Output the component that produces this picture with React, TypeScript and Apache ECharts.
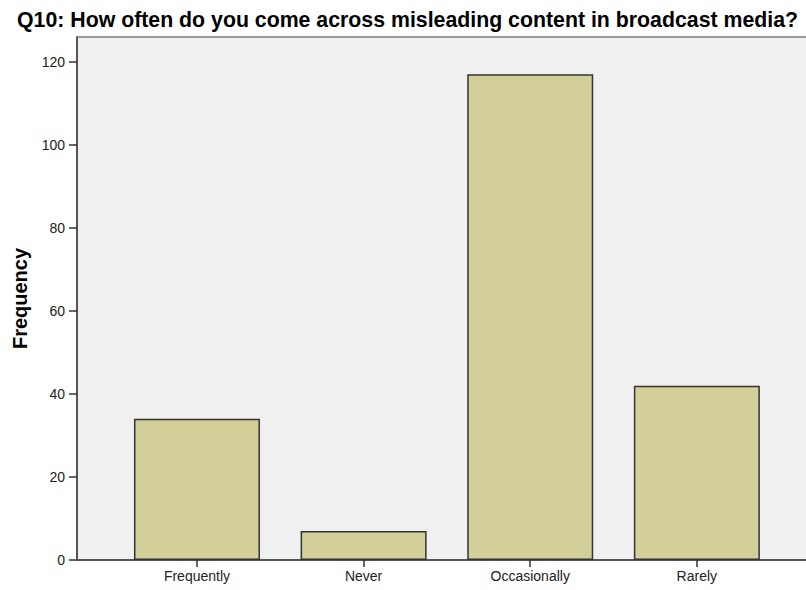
import React, { useEffect, useRef } from "react";
import * as echarts from "echarts";

const categories = ["Frequently", "Never", "Occasionally", "Rarely"];
const frequencies = [34, 7, 117, 42];
const yTicks = [0, 20, 40, 60, 80, 100, 120];

const FONT = "'Liberation Sans', Arial, sans-serif";

export default function App() {
  const ref = useRef<HTMLDivElement>(null);
  useEffect(() => {
    if (!ref.current) return;
    const chart = echarts.init(ref.current, null, { renderer: "svg" });
    const idx = categories.map((_, i) => i);
    chart.setOption({
      animation: false,
      backgroundColor: "#ffffff",
      title: {
        text: "Q10: How often do you come across misleading content in broadcast media?",
        left: 12,
        top: 4,
        textStyle: { fontFamily: FONT, fontSize: 21.3, fontWeight: "bold", color: "#000" },
      },
      grid: {
        left: 77,
        right: 0,
        top: 37,
        bottom: 30,
        show: true,
        backgroundColor: "#f0f0f0",
        borderColor: "transparent",
        borderWidth: 0,
      },
      xAxis: [
        {
          type: "value",
          min: -0.72,
          max: 3.655,
          splitLine: { show: false },
          axisLine: { show: true, onZero: false, lineStyle: { color: "#555", width: 2 } },
          axisTick: {
            show: true,
            customValues: idx,
            length: 7,
            lineStyle: { color: "#333", width: 1.5 },
          },
          axisLabel: {
            customValues: idx,
            margin: 9,
            fontFamily: FONT,
            fontSize: 14,
            color: "#222",
            formatter: (v: number) => categories[Math.round(v)] ?? "",
          },
        },
        {
          type: "value",
          position: "top",
          min: -0.72,
          max: 3.655,
          splitLine: { show: false },
          axisLine: { show: true, onZero: false, lineStyle: { color: "#7a7a7a", width: 1.5 } },
          axisTick: { show: false },
          axisLabel: { show: false },
        },
      ],
      yAxis: {
        type: "value",
        min: 0,
        max: 126,
        name: "Frequency",
        nameLocation: "middle",
        nameGap: 47,
        nameTextStyle: { fontFamily: FONT, fontSize: 20, fontWeight: "bold", color: "#000" },
        splitLine: { show: false },
        axisLine: { show: true, onZero: false, lineStyle: { color: "#555", width: 2 } },
        axisTick: {
          show: true,
          customValues: yTicks,
          length: 8,
          lineStyle: { color: "#333", width: 1.5 },
        },
        axisLabel: {
          customValues: yTicks,
          margin: 12,
          fontFamily: FONT,
          fontSize: 14,
          color: "#222",
        },
      },
      series: [
        {
          type: "bar",
          xAxisIndex: 0,
          barWidth: 126,
          data: frequencies.map((v, i) => [i, v]),
          itemStyle: { color: "#d3cf98", borderColor: "#333", borderWidth: 1.5 },
        },
      ],
    });
    return () => chart.dispose();
  }, []);
  return (
    <div
      ref={ref}
      style={{ position: "absolute", left: 0, top: 0, width: 806, height: 590, overflow: "hidden" }}
    />
  );
}
